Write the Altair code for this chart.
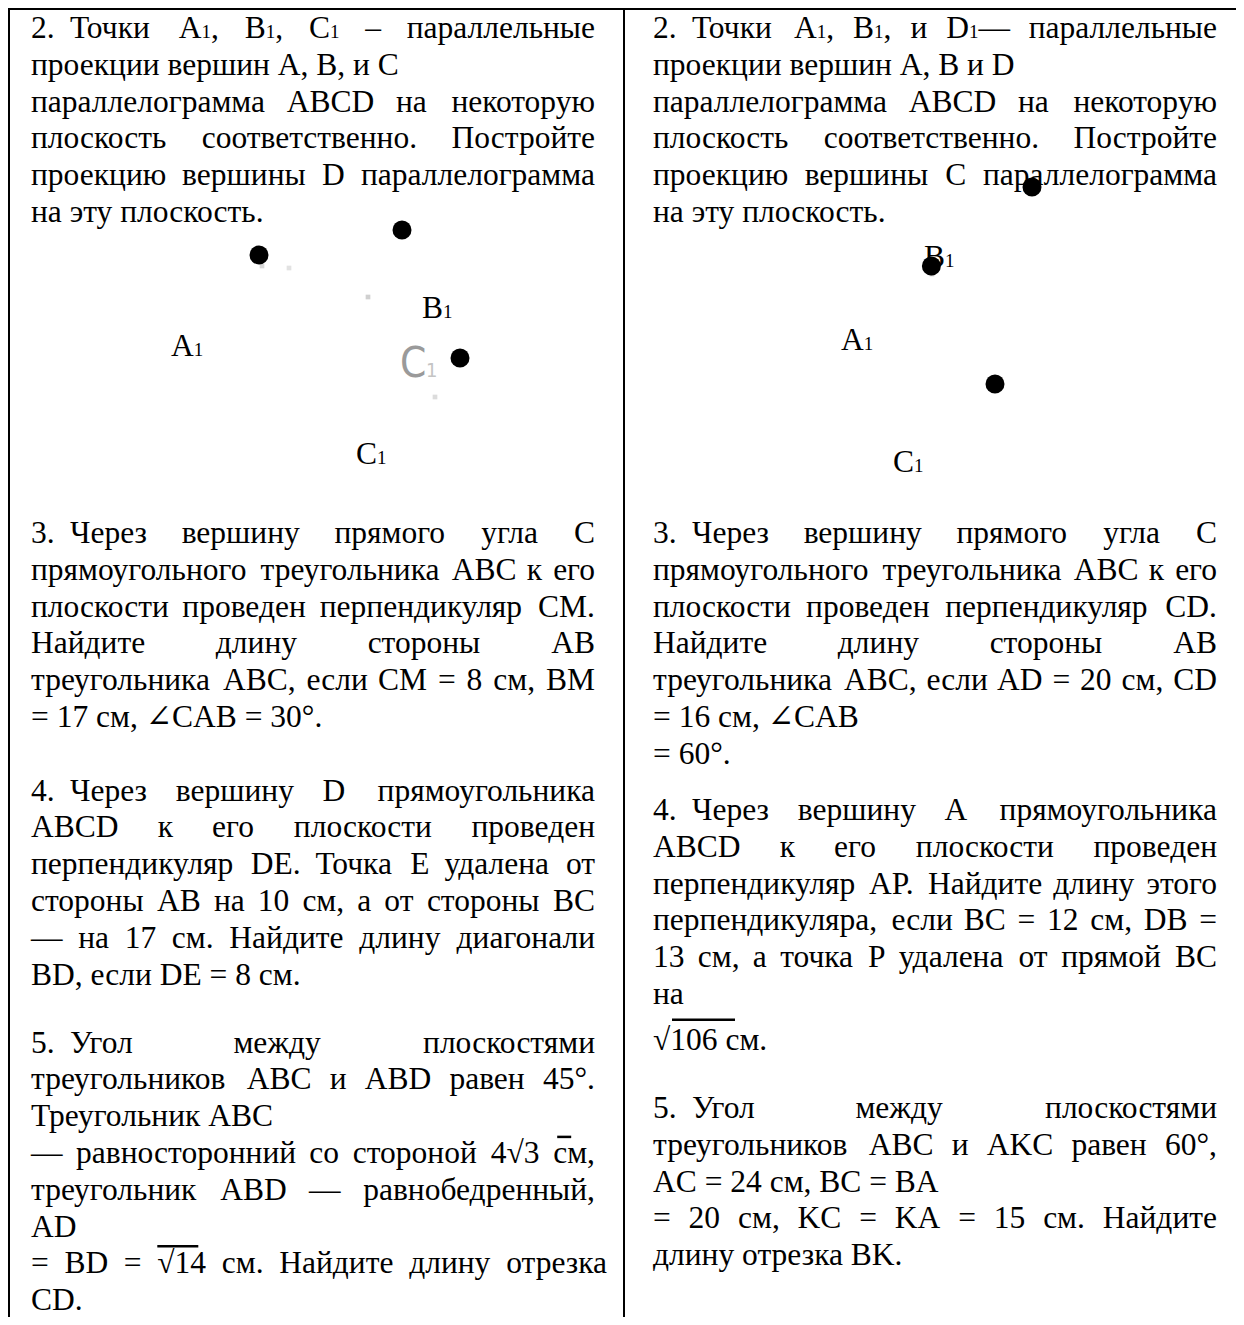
import altair as alt
import pandas as pd

FONT = "Liberation Serif, DejaVu Serif"
FS = 31.5          # body font size (px)
FS_SUB = 19.0      # small "1" after point names
LINE = 36.8        # line pitch

X_START = {"L": 31.0, "R": 653.0}
X_TAB = {"L": 70.0, "R": 692.0}
X_END = {"L": 595.0, "R": 1217.0}

# ---- text content: (mode, text[, extra dy[, right edge]]) ; J = justified, L = left ----
left_p2 = [
    ("J", "2.|Точки A_1, B_1, C_1 – параллельные"),
    ("L", "проекции вершин A, B, и C"),
    ("J", "параллелограмма ABCD на некоторую"),
    ("J", "плоскость соответственно. Постройте"),
    ("J", "проекцию вершины D параллелограмма"),
    ("L", "на эту плоскость."),
]
left_p3 = [
    ("J", "3.|Через вершину прямого угла C"),
    ("J", "прямоугольного треугольника ABC к его"),
    ("J", "плоскости проведен перпендикуляр CM."),
    ("J", "Найдите длину стороны AB"),
    ("J", "треугольника ABC, если CM = 8 см, BM"),
    ("L", "= 17 см, ∠CAB = 30°."),
]
left_p4 = [
    ("J", "4.|Через вершину D прямоугольника"),
    ("J", "ABCD к его плоскости проведен"),
    ("J", "перпендикуляр DE. Точка E удалена от"),
    ("J", "стороны AB на 10 см, а от стороны BC"),
    ("J", "— на 17 см. Найдите длину диагонали"),
    ("L", "BD, если DE = 8 см."),
]
left_p5 = [
    ("J", "5.|Угол между плоскостями"),
    ("J", "треугольников ABC и ABD равен 45°."),
    ("L", "Треугольник ABC"),
    ("J", "— равносторонний со стороной 4√3 см,"),
    ("J", "треугольник ABD — равнобедренный,"),
    ("L", "AD"),
    ("J", "= BD = √14 см. Найдите длину отрезка", 0.0, 607.0),
    ("L", "CD."),
]
right_p2 = [
    ("J", "2.|Точки A_1, B_1, и D_1— параллельные"),
    ("L", "проекции вершин A, B и D"),
    ("J", "параллелограмма ABCD на некоторую"),
    ("J", "плоскость соответственно. Постройте"),
    ("J", "проекцию вершины C параллелограмма"),
    ("L", "на эту плоскость."),
]
right_p3 = [
    ("J", "3.|Через вершину прямого угла C"),
    ("J", "прямоугольного треугольника ABC к его"),
    ("J", "плоскости проведен перпендикуляр CD."),
    ("J", "Найдите длину стороны AB"),
    ("J", "треугольника ABC, если AD = 20 см, CD"),
    ("L", "= 16 см, ∠CAB"),
    ("L", "= 60°."),
]
right_p4 = [
    ("J", "4.|Через вершину A прямоугольника"),
    ("J", "ABCD к его плоскости проведен"),
    ("J", "перпендикуляр AP. Найдите длину этого"),
    ("J", "перпендикуляра, если BC = 12 см, DB ="),
    ("J", "13 см, а точка P удалена от прямой BC"),
    ("L", "на"),
    ("L", "√106 см.", 9.0),
]
right_p5 = [
    ("J", "5.|Угол между плоскостями"),
    ("J", "треугольников ABC и AKC равен 60°,"),
    ("L", "AC = 24 см, BC = BA"),
    ("J", "= 20 см, KC = KA = 15 см. Найдите"),
    ("L", "длину отрезка BK."),
]

paragraphs = [
    ("L", 38.0, left_p2),
    ("L", 543.0, left_p3),
    ("L", 800.6, left_p4),
    ("L", 1052.5, left_p5),
    ("R", 38.0, right_p2),
    ("R", 543.0, right_p3),
    ("R", 820.0, right_p4),
    ("R", 1118.0, right_p5),
]

# overlines of the radical signs: (paragraph, line, word, from, to, height above baseline)
overlines = [
    (3, 3, 5, 4.0, 18.0, 26.0),
    (3, 6, 3, 0.0, 41.0, 27.0),
    (6, 6, 0, 19.0, 82.0, 30.0),
]

# ---- diagrams ----
dot_x = [259.0, 402.0, 460.0, 1032.0, 931.4, 995.0]
dot_y = [255.0, 230.0, 358.0, 187.0, 266.0, 384.0]

label_text = ["A_1", "B_1", "C_1", "B_1", "A_1", "C_1"]
label_x = [171.0, 422.0, 356.0, 924.0, 841.0, 893.0]
label_y = [356.0, 318.0, 464.0, 267.0, 350.0, 472.0]

ghost_text = ["C", "1"]
ghost_x = [400.0, 426.0]
ghost_y = [377.0, 377.0]
ghost_size = [42.0, 20.0]
ghost_color = ["#9a9a9a", "#c4c4c4"]

speck_x = [262.0, 289.0, 368.0, 435.0, 932.0]
speck_y = [266.0, 268.0, 297.0, 397.0, 274.0]
speck_color = ["#d8d8d8", "#e2e2e2", "#d0d0d0", "#dcdcdc", "#c8c8c8"]

# table frame
rule_x = [8.0, 9.0, 624.0]
rule_y = [9.0, 8.0, 8.0]
rule_x2 = [1236.0, 9.0, 624.0]
rule_y2 = [9.0, 1317.0, 1317.0]

# ---- Times-compatible advance widths (1/1000 em) ----
W = {" ": 250, ".": 250, ",": 250, "=": 564, "°": 400, "–": 500, "—": 1000,
     "∠": 768, "√": 549, "A": 722, "B": 667, "C": 667, "D": 722, "E": 611,
     "K": 722, "M": 889, "P": 556}
for d in "0123456789":
    W[d] = 500
cyr_lower = "абвгдежзийклмнопрстуфхцчшщъыьэюя"
cyr_lower_w = [444, 500, 472, 410, 509, 444, 691, 395, 535, 535, 486, 499, 633, 535, 500, 535,
               500, 444, 437, 500, 648, 500, 535, 503, 770, 770, 517, 672, 456, 429, 747, 486]
cyr_upper = "АБВГДЕЖЗИЙКЛМНОПРСТУФХЦЧШЩЪЫЬЭЮЯ"
cyr_upper_w = [722, 574, 667, 578, 682, 611, 896, 501, 722, 722, 667, 678, 889, 722, 722, 722,
               556, 667, 611, 574, 715, 722, 719, 668, 1006, 1006, 677, 888, 574, 663, 1029, 668]
W.update(dict(zip(cyr_lower, cyr_lower_w)))
W.update(dict(zip(cyr_upper, cyr_upper_w)))


def segs(word):
    out, buf, i = [], "", 0
    while i < len(word):
        if word[i] == "_" and i + 1 < len(word):
            if buf:
                out.append((buf, FS))
                buf = ""
            out.append((word[i + 1], FS_SUB))
            i += 2
        else:
            buf += word[i]
            i += 1
    if buf:
        out.append((buf, FS))
    return out


def tw(s, fs):
    return sum(W.get(c, 500) for c in s) * fs / 1000.0


def ww(word):
    return sum(tw(t, f) for t, f in segs(word))


rows_l, rows_r = [], []
word_pos = {}


def put(x, y, word):
    for t, f in segs(word):
        rows_l.append(dict(x=x, y=y, t=t, s=f))
        x += tw(t, f)


for pi, (col, y0, lines) in enumerate(paragraphs):
    for li, line in enumerate(lines):
        mode, text = line[0], line[1]
        extra = line[2] if len(line) > 2 else 0.0
        right = line[3] if len(line) > 3 else X_END[col]
        yb = y0 + li * LINE + extra
        x0 = X_START[col]
        if "|" in text:
            num, text = text.split("|")
            put(x0, yb, num)
            start = X_TAB[col]
        else:
            start = x0
        words = text.split()
        widths = [ww(w) for w in words]
        if mode == "J" and len(words) > 1:
            gap = (right - start - sum(widths)) / (len(words) - 1)
        else:
            gap = tw(" ", FS)
        x = start
        if mode == "L" and "_" not in text:
            rows_l.append(dict(x=start, y=yb, t=text, s=FS))
            for wi, w in enumerate(words):
                word_pos[(pi, li, wi)] = (x, yb)
                x += widths[wi] + gap
            continue
        for wi, w in enumerate(words):
            last = wi == len(words) - 1
            if mode == "J" and last and len(words) > 1 and len(segs(w)) == 1:
                rows_r.append(dict(x=right, y=yb, t=w, s=FS))
                word_pos[(pi, li, wi)] = (right - widths[wi], yb)
            else:
                put(x, yb, w)
                word_pos[(pi, li, wi)] = (x, yb)
            x += widths[wi] + gap

for t, x, y in zip(label_text, label_x, label_y):
    put(x, y, t)

ov_rows = []
for pi, li, wi, a, b, dy in overlines:
    wx, wy = word_pos[(pi, li, wi)]
    ov_rows.append(dict(x=wx + a, x2=wx + b, y=wy - dy, y2=wy - dy))

df_l = pd.DataFrame(rows_l)
df_r = pd.DataFrame(rows_r)
df_dots = pd.DataFrame({"x": dot_x, "y": dot_y})
df_ghost = pd.DataFrame({"x": ghost_x, "y": ghost_y, "t": ghost_text, "s": ghost_size, "c": ghost_color})
df_speck = pd.DataFrame({"x": speck_x, "y": speck_y, "c": speck_color})
df_rules = pd.DataFrame({"x": rule_x, "y": rule_y, "x2": rule_x2, "y2": rule_y2})
df_ov = pd.DataFrame(ov_rows)

X = alt.X("x:Q", scale=alt.Scale(domain=[8, 1236], nice=False, zero=False), axis=None)
Y = alt.Y("y:Q", scale=alt.Scale(domain=[8, 1317], nice=False, zero=False, reverse=True), axis=None)

text_left = alt.Chart(df_l).mark_text(
    align="left", baseline="alphabetic", font=FONT, color="#000000"
).encode(x=X, y=Y, text="t:N", size=alt.Size("s:Q", scale=None, legend=None))

text_right = alt.Chart(df_r).mark_text(
    align="right", baseline="alphabetic", font=FONT, color="#000000"
).encode(x=X, y=Y, text="t:N", size=alt.Size("s:Q", scale=None, legend=None))

ghost = alt.Chart(df_ghost).mark_text(
    align="left", baseline="alphabetic",
    font="Liberation Sans Narrow, DejaVu Sans Condensed, Liberation Sans"
).encode(x=X, y=Y, text="t:N", size=alt.Size("s:Q", scale=None, legend=None),
         color=alt.Color("c:N", scale=None, legend=None))

specks = alt.Chart(df_speck).mark_square(size=22, opacity=1).encode(
    x=X, y=Y, color=alt.Color("c:N", scale=None, legend=None))

dots = alt.Chart(df_dots).mark_point(
    filled=True, shape="circle", size=361, color="#000000", opacity=1
).encode(x=X, y=Y)

rules = alt.Chart(df_rules).mark_rule(color="#000000", strokeWidth=2).encode(
    x=X, y=Y, x2="x2:Q", y2="y2:Q")

ovl = alt.Chart(df_ov).mark_rule(color="#000000", strokeWidth=2.5).encode(
    x=X, y=Y, x2="x2:Q", y2="y2:Q")

chart = alt.layer(rules, specks, ghost, text_left, text_right, ovl, dots).properties(
    width=1228, height=1309, padding=0, background="white",
    autosize=alt.AutoSizeParams(type="none"),
).configure_view(strokeWidth=0)

chart.save("out.html", embed_options={"renderer": "svg", "actions": False})
